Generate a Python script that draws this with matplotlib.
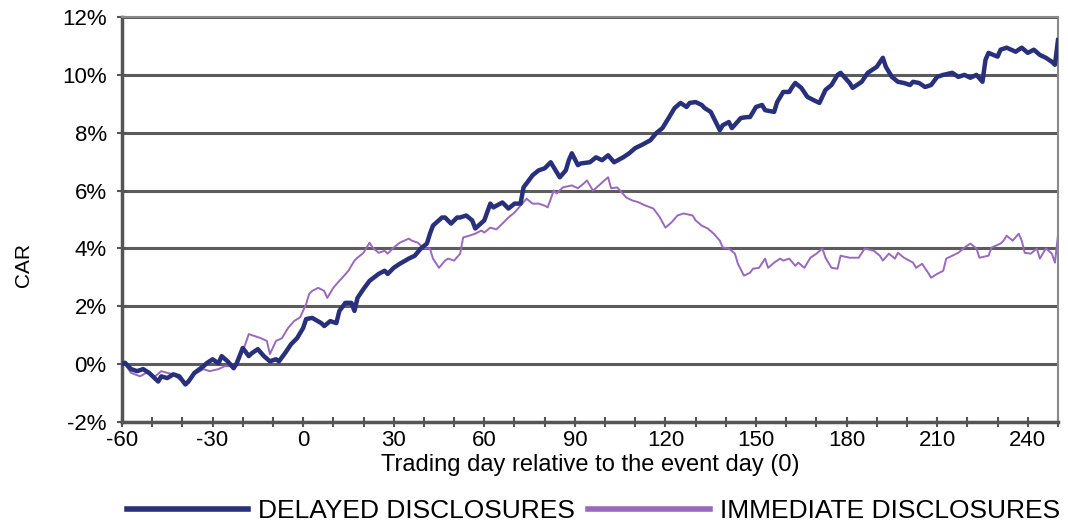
import matplotlib
matplotlib.use("Agg")
import matplotlib.pyplot as plt
from matplotlib.lines import Line2D
from matplotlib.ticker import MultipleLocator, FuncFormatter

# values (day, CAR in %)
delayed_days = [-60, -59, -57, -55, -53, -51, -48, -47, -45, -43, -41, -39, -38, -36, -33, -32,
                -30, -28, -27, -25, -23, -22, -20, -18, -17, -15, -13, -11, -9, -8, -6, -4, -2,
                0, 1, 3, 6, 7, 9, 11, 12, 14, 16, 17, 18, 20, 22, 25, 27, 28, 30, 32, 35, 37,
                39, 41, 42, 43, 46, 47, 49, 51, 52, 54, 56, 57, 60, 62, 63, 66, 68, 70, 72, 73,
                76, 78, 80, 82, 85, 87, 88, 89, 91, 92, 95, 97, 99, 101, 103, 106, 108, 110,
                112, 115, 117, 119, 121, 123, 125, 127, 128, 130, 132, 133, 135, 136, 138, 139,
                141, 142, 145, 147, 148, 150, 152, 153, 156, 157, 159, 161, 162, 163, 165, 167,
                169, 171, 173, 175, 177, 178, 181, 182, 185, 187, 190, 192, 193, 195, 197, 199,
                201, 202, 204, 206, 208, 210, 212, 215, 217, 219, 221, 223, 225, 226, 227, 230,
                231, 233, 236, 238, 240, 242, 244, 246, 248, 249, 250]
delayed_car = [0.0, 0.05, -0.17, -0.24, -0.17, -0.3, -0.6, -0.42, -0.48, -0.35, -0.42, -0.7,
               -0.6, -0.3, -0.07, 0.03, 0.17, 0.03, 0.28, 0.1, -0.14, 0.03, 0.56, 0.28, 0.38,
               0.52, 0.28, 0.1, 0.17, 0.1, 0.38, 0.69, 0.9, 1.25, 1.56, 1.6, 1.42, 1.32, 1.49,
               1.42, 1.84, 2.12, 2.12, 1.84, 2.29, 2.6, 2.88, 3.12, 3.23, 3.12, 3.33, 3.47, 3.65,
               3.75, 4.0, 4.17, 4.51, 4.79, 5.07, 5.07, 4.86, 5.07, 5.07, 5.14, 4.97, 4.69, 4.97,
               5.55, 5.42, 5.59, 5.38, 5.55, 5.55, 6.11, 6.53, 6.7, 6.77, 6.98, 6.46, 6.7, 7.05,
               7.29, 6.88, 6.94, 6.98, 7.15, 7.05, 7.22, 6.98, 7.15, 7.29, 7.47, 7.57, 7.74, 7.99,
               8.16, 8.5, 8.85, 9.03, 8.89, 9.03, 9.06, 8.96, 8.85, 8.72, 8.51, 8.09, 8.26, 8.37,
               8.16, 8.51, 8.54, 8.54, 8.89, 8.96, 8.78, 8.72, 9.06, 9.41, 9.41, 9.58, 9.72, 9.55,
               9.24, 9.13, 9.03, 9.48, 9.65, 10.0, 10.07, 9.72, 9.55, 9.76, 10.07, 10.28, 10.59,
               10.28, 9.93, 9.76, 9.72, 9.65, 9.76, 9.72, 9.58, 9.65, 9.93, 10.0, 10.07, 9.93,
               10.0, 9.9, 10.0, 9.76, 10.52, 10.76, 10.63, 10.87, 10.94, 10.8, 10.94, 10.76,
               10.87, 10.69, 10.59, 10.45, 10.35, 11.2]

immediate_days = [-60, -59, -57, -54, -52, -49, -47, -45, -43, -41, -38, -36, -33, -31, -28,
                  -26, -23, -21, -19, -18, -16, -14, -12, -11, -9, -7, -5, -3, -1, 1, 2, 3, 5,
                  7, 8, 10, 12, 13, 15, 17, 18, 20, 22, 23, 25, 27, 28, 30, 32, 35, 36, 38, 40,
                  42, 43, 45, 47, 48, 50, 52, 53, 55, 57, 59, 60, 62, 64, 66, 68, 70, 72, 74, 76,
                  78, 80, 81, 83, 84, 86, 89, 91, 93, 94, 96, 98, 99, 101, 102, 104, 105, 107,
                  109, 111, 113, 116, 118, 120, 122, 124, 126, 129, 130, 132, 134, 136, 138, 139,
                  141, 143, 144, 146, 148, 149, 151, 153, 154, 156, 158, 159, 161, 163, 164, 166,
                  168, 170, 172, 173, 175, 177, 178, 181, 184, 186, 189, 191, 192, 194, 196, 197,
                  199, 202, 203, 205, 207, 208, 210, 212, 213, 215, 217, 219, 221, 223, 224, 227,
                  228, 231, 232, 233, 235, 237, 238, 239, 241, 243, 244, 246, 248, 249, 250]
immediate_car = [0.0, 0.0, -0.3, -0.42, -0.3, -0.42, -0.24, -0.3, -0.35, -0.52, -0.66, -0.35,
                 -0.17, -0.24, -0.17, -0.07, -0.07, 0.21, 0.73, 1.04, 0.97, 0.9, 0.8, 0.35, 0.8,
                 0.9, 1.25, 1.49, 1.62, 2.08, 2.43, 2.53, 2.64, 2.53, 2.29, 2.64, 2.88, 2.99, 3.23,
                 3.58, 3.68, 3.85, 4.2, 4.03, 3.85, 3.92, 3.82, 4.03, 4.2, 4.34, 4.27, 4.2, 4.0,
                 4.0, 3.65, 3.33, 3.58, 3.65, 3.58, 3.82, 4.38, 4.44, 4.51, 4.62, 4.55, 4.72, 4.66,
                 4.86, 5.07, 5.24, 5.48, 5.72, 5.55, 5.55, 5.48, 5.42, 6.0, 5.9, 6.11, 6.18, 6.08,
                 6.25, 6.35, 6.0, 6.18, 6.28, 6.46, 6.08, 6.11, 6.0, 5.76, 5.66, 5.6, 5.5, 5.38,
                 5.1, 4.72, 4.9, 5.14, 5.21, 5.14, 4.97, 4.79, 4.69, 4.51, 4.27, 4.03, 4.0, 3.82,
                 3.47, 3.06, 3.16, 3.3, 3.33, 3.65, 3.33, 3.51, 3.65, 3.58, 3.65, 3.4, 3.51, 3.33,
                 3.68, 3.82, 4.0, 3.68, 3.33, 3.3, 3.75, 3.68, 3.68, 4.0, 3.92, 3.75, 3.58, 3.82,
                 3.65, 3.85, 3.68, 3.51, 3.33, 3.47, 3.16, 2.99, 3.12, 3.23, 3.65, 3.75, 3.85,
                 4.03, 4.17, 4.0, 3.68, 3.75, 4.03, 4.17, 4.27, 4.44, 4.27, 4.51, 4.27, 3.85, 3.82,
                 4.0, 3.65, 4.0, 3.82, 3.51, 4.45]

series_names = ["DELAYED DISCLOSURES", "IMMEDIATE DISCLOSURES"]
dark = "#28307c"
purple = "#9a68bd"

fig = plt.figure(figsize=(10.68, 5.23), dpi=100)
ax = fig.add_axes([0.1142, 0.193, 0.8764, 0.7745])

ax.plot(delayed_days, delayed_car, color=dark, lw=3.2, zorder=3)
ax.plot(immediate_days, immediate_car, color=purple, lw=1.4, zorder=2)

ax.set_xlim(-60, 250)
ax.set_ylim(-2, 12)
ax.xaxis.set_major_locator(MultipleLocator(10))
ax.xaxis.set_major_formatter(FuncFormatter(lambda v, p: f"{int(v)}" if int(round(v)) % 30 == 0 else ""))
ax.yaxis.set_major_locator(MultipleLocator(2))
ax.yaxis.set_major_formatter(FuncFormatter(lambda v, p: f"{int(round(v))}%"))

ax.grid(axis="y", color="#5c5c5c", lw=2.2, zorder=1)
ax.set_axisbelow(True)

for side in ["left", "bottom"]:
    ax.spines[side].set_color("#555555")
    ax.spines[side].set_linewidth(2.5)
for side in ["top", "right"]:
    ax.spines[side].set_color("#8a8a8a")
    ax.spines[side].set_linewidth(1.5)

ax.tick_params(axis="both", direction="inout", length=7, width=1.5, color="#555555")
ax.tick_params(axis="x", pad=2.5)
ax.tick_params(axis="y", pad=7.5)
for lab in ax.get_xticklabels():
    lab.set_family("Liberation Sans")
    lab.set_fontsize(16)
for lab in ax.get_yticklabels():
    lab.set_family("Liberation Sans")
    lab.set_fontsize(16)

ax.set_xlabel("Trading day relative to the event day (0)", family="Liberation Sans",
              fontsize=17, labelpad=2)
ax.set_ylabel("CAR", family="Liberation Sans", fontsize=15)
ax.yaxis.set_label_coords(-0.095, 0.388)

# legend with thicker sample lines than the plotted series
handles = [Line2D([], [], color=dark, lw=4), Line2D([], [], color=purple, lw=4)]
fig.legend(handles, series_names, loc="center", bbox_to_anchor=(0.5557, 0.022), ncol=2,
           frameon=False, prop={"family": "Liberation Sans", "size": 19}, handlelength=4.6,
           handletextpad=0.38, columnspacing=0.5, borderpad=0, borderaxespad=0)

fig.savefig("out.png", dpi=100)
